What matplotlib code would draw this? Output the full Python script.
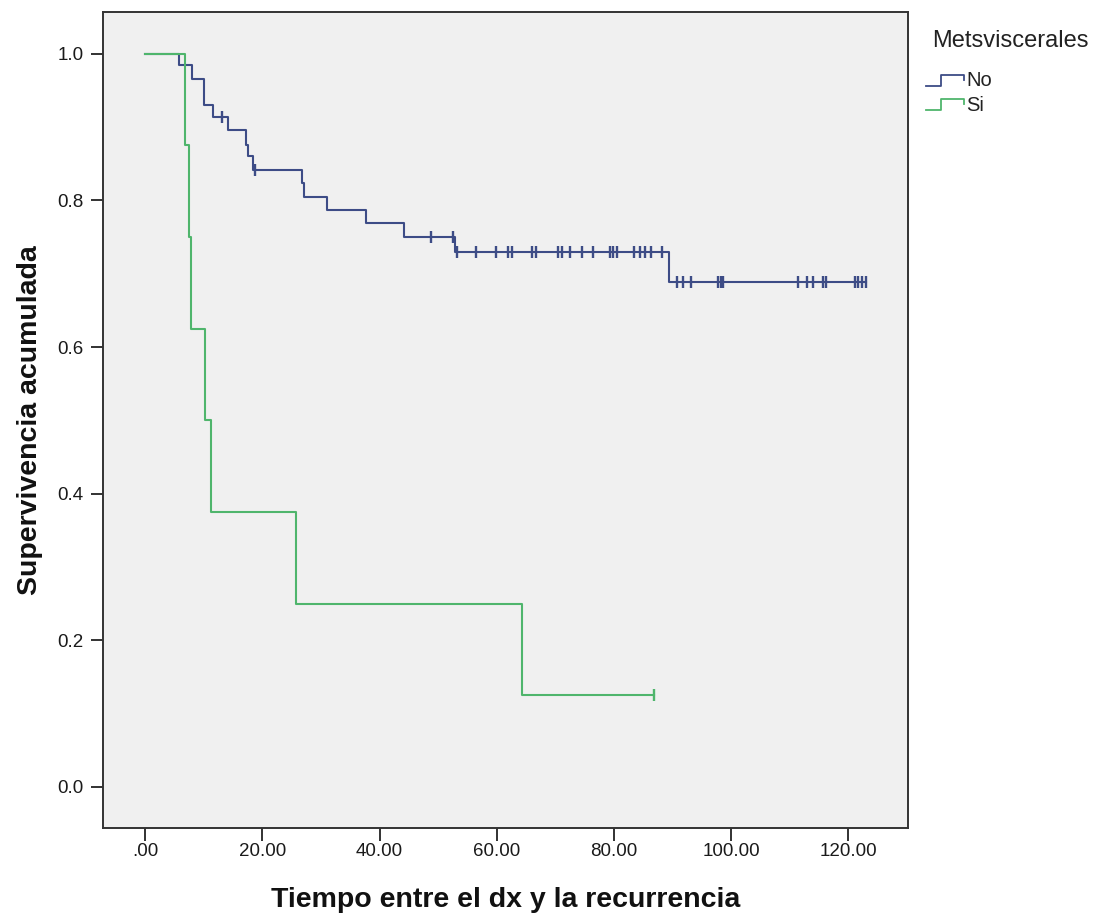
import numpy as np
import matplotlib
matplotlib.use("Agg")
import matplotlib.pyplot as plt
from matplotlib.lines import Line2D

# ---- data ----
group_names = ["No", "Si"]
no_times = [0, 5.7, 8.0, 10.1, 11.5, 14.1, 17.2, 17.6, 18.4, 26.7, 27.1, 31.0, 37.7,
            44.2, 52.9, 89.4, 123.0]
no_surv = [1.0, 0.985, 0.966, 0.930, 0.914, 0.896, 0.876, 0.860, 0.842, 0.824, 0.805,
           0.787, 0.769, 0.750, 0.730, 0.689, 0.689]
no_censor = [13.1, 18.8, 48.7, 52.6, 53.2, 56.4, 59.9, 61.9, 62.6, 66.0, 66.7, 70.5, 71.1,
             72.5, 74.5, 76.5, 79.4, 79.9, 80.5, 83.4, 84.4, 85.3, 86.3, 88.2, 90.8, 91.8,
             93.1, 97.8, 98.2, 98.7, 111.5, 112.9, 113.9, 115.7, 116.2, 121.2, 121.7,
             122.3, 123.0]
si_times = [0, 6.8, 7.5, 7.9, 10.2, 11.2, 25.7, 64.4, 86.9]
si_surv = [1.0, 0.875, 0.75, 0.625, 0.5, 0.375, 0.25, 0.125, 0.125]
si_censor = [86.9]

xticks = [0, 20, 40, 60, 80, 100, 120]
xtick_labels = [".00", "20.00", "40.00", "60.00", "80.00", "100.00", "120.00"]
yticks = [0.0, 0.2, 0.4, 0.6, 0.8, 1.0]
ytick_labels = ["0.0", "0.2", "0.4", "0.6", "0.8", "1.0"]

blue = "#3d4c86"
green = "#4fb56c"
fam = ["Liberation Sans", "DejaVu Sans"]

W, H = 1111, 921
fig = plt.figure(figsize=(W / 100, H / 100), dpi=100)
fig.patch.set_facecolor("white")
ax = fig.add_axes([103 / W, 1 - 828 / H, (908 - 103) / W, (828 - 12) / H])
ax.set_facecolor("#f0f0f0")


def level_at(times, surv, t):
    i = np.searchsorted(times, t, side="right") - 1
    return surv[max(i, 0)]


for times, surv, cens, col, z in [(no_times, no_surv, no_censor, blue, 3),
                                  (si_times, si_surv, si_censor, green, 4)]:
    ax.step(times, surv, where="post", color=col, lw=1.5, zorder=z)
    cy = [level_at(times, surv, t) for t in cens]
    ax.plot(cens, cy, linestyle="none", marker="|", markersize=9,
            markeredgewidth=1.7, color=col, zorder=z)

ax.set_xlim(-7.2, 130.2)
ax.set_ylim(-0.056, 1.057)
ax.set_xticks(xticks)
ax.set_xticklabels(xtick_labels, fontsize=13.5, family=fam)
ax.set_yticks(yticks)
ax.set_yticklabels(ytick_labels, fontsize=13.5, family=fam)
ax.tick_params(axis="both", direction="out", length=9, width=1.3, color="#222222",
               labelcolor="#1a1a1a")
ax.tick_params(axis="x", pad=2)
ax.tick_params(axis="y", pad=5)
for s in ax.spines.values():
    s.set_color("#333333")
    s.set_linewidth(1.4)

ax.set_xlabel("Tiempo entre el dx y la recurrencia", fontsize=20.5, fontweight="bold",
              family=fam, labelpad=19, color="#111111")
ax.set_ylabel("Supervivencia acumulada", fontsize=20.5, fontweight="bold",
              family=fam, labelpad=10, color="#111111")

# ---- legend drawn manually (step-shaped glyphs) ----
fig.text(932 / W, 1 - 41 / H, "Metsviscerales", fontsize=17,
         family=fam, va="center", ha="left", color="#222222")
for name, col, yc in [(group_names[0], blue, 81), (group_names[1], green, 105)]:
    xs = np.array([926, 941, 941, 964, 964]) / W
    ys = 1 - np.array([yc + 5, yc + 5, yc - 6, yc - 6, yc - 1]) / H
    fig.add_artist(Line2D(xs, ys, color=col, lw=1.3, transform=fig.transFigure))
    fig.text(966 / W, 1 - yc / H, name, fontsize=14.5,
             family=fam, va="center", ha="left", color="#222222")

fig.savefig("out.png", dpi=100)
